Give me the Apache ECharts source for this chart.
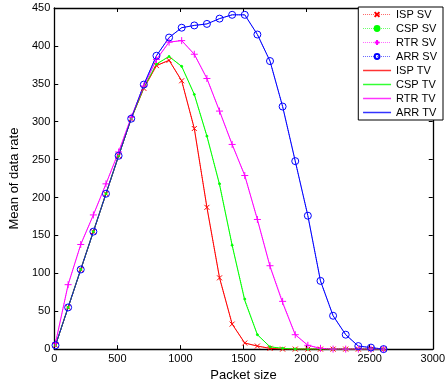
<!DOCTYPE html>
<html><head><meta charset="utf-8">
<script src="https://cdn.jsdelivr.net/npm/echarts@6/dist/echarts.min.js"></script>
<style>html,body{margin:0;padding:0;background:#fff}#c{width:448px;height:387px}</style>
</head><body><div id="c"></div>
<script>
const packetSize = [10,110,210,310,410,510,610,710,810,910,1010,1110,1210,1310,1410,1510,1610,1710,1810,1910,2010,2110,2210,2310,2410,2510,2610];
const ispSV = [5,55,105,155,205,255,304,344,374,381,354,291,187,94,33,8,4,1,0,0,0,0,0,0,0,0,0];
const cspSV = [5,55,105,155,205,255,304,345,376,386,373,336,281,218,137,66,19,3,1,0,0,0,0,0,0,0,0];
const rtrSV = [8,85,138,177,218,260,306,347,382,405,407,389,357,314,270,229,171,110,63,19,5,1,0,0,0,0,0];
const arrSV = [5,55,105,155,205,255,304,349,387,411,424,427,429,436,441,441,415,380,320,248,176,90,44,19,4,2,0];
const ispTV = [5,55,105,155,205,255,304,344,374,381,354,291,187,94,33,8,4,1,0,0,0,0,0,0,0,0,0];
const cspTV = [5,55,105,155,205,255,304,345,376,386,373,336,281,217,137,64,19,3,1,0,0,0,0,0,0,0,0];
const rtrTV = [8,85,138,177,218,260,306,347,382,405,407,389,357,314,270,229,171,109,61,19,5,1,0,0,0,0,0];
const arrTV = [5,55,105,155,205,255,304,349,387,411,424,427,429,436,441,441,415,380,320,248,176,90,44,19,4,2,0];
const xTicks = [0,500,1000,1500,2000,2500,3000];
const yTicks = [0,50,100,150,200,250,300,350,400,450];

const pair = a => packetSize.map((x,i)=>[x,a[i]]);
const FONT = '"Liberation Sans", Arial, sans-serif';
const X_PATH = 'path://M0,0L10,10M10,0L0,10';
const PLUS_PATH = 'path://M5,0L5,10M0,5L10,5';
const O_PATH = 'path://M10,5A5,5,0,1,1,0,5A5,5,0,1,1,10,5Z';

const COLORS = {ISP:'#ff0000', CSP:'#00ff00', RTR:'#ff00ff', ARR:'#0000ff'};

function sv(name, data, color, symbol, size, fill) {
  return {
    name, type:'line', data: pair(data), symbol, symbolSize: size,
    showSymbol: true,
    lineStyle:{color, width:1, type:'dotted', opacity:0.6},
    itemStyle:{color: fill, borderColor:color, borderWidth:1},
    animation:false, z:3
  };
}
function tv(name, data, color) {
  return {
    name, type:'line', data: pair(data), symbol:'none', showSymbol:false,
    lineStyle:{color, width:1},
    itemStyle:{color},
    animation:false, z:2
  };
}

const chart = echarts.init(document.getElementById('c'), null, {renderer:'canvas'});
const axisCommon = {
  axisLine:{show:true, onZero:false, lineStyle:{color:'#000', width:1.3}},
  axisTick:{show:true, inside:true, length:4, lineStyle:{color:'#000'}},
  splitLine:{show:false}
};
const legendNames = ['ISP SV','CSP SV','RTR SV','ARR SV','ISP TV','CSP TV','RTR TV','ARR TV'];
chart.setOption({
  backgroundColor:'#fff',
  textStyle:{fontFamily:FONT},
  grid:{left:51, right:13, top:8, bottom:29, containLabel:false},
  legend:{
    orient:'vertical', right:5, top:7,
    itemWidth:28, itemHeight:6, itemGap:3,
    backgroundColor:'#fff', borderColor:'#000', borderWidth:1,
    padding:[2,6,2,4],
    textStyle:{fontSize:11, color:'#000', fontFamily:FONT},
    data: legendNames.map(n => {
      const c = COLORS[n.slice(0,3)];
      return n.endsWith('TV')
        ? {name:n, itemStyle:{opacity:0}, lineStyle:{color:c, width:1.5, type:'solid', opacity:0.8}}
        : {name:n, lineStyle:{color:c, width:1, type:'dotted', opacity:0.6}};
    })
  },
  xAxis:[
    Object.assign({type:'value', min:0, max:3000, interval:500, position:'bottom',
      name:'Packet size', nameLocation:'middle', nameGap:13,
      nameTextStyle:{fontSize:13, color:'#000', fontFamily:FONT},
      axisLabel:{color:'#000', fontSize:11, margin:4, fontFamily:FONT,
        formatter:v=>xTicks.includes(v)?String(v):''}}, axisCommon),
    Object.assign({type:'value', min:0, max:3000, interval:500, position:'top',
      axisLabel:{show:false}}, axisCommon)
  ],
  yAxis:[
    Object.assign({type:'value', min:0, max:450, interval:50, position:'left',
      name:'Mean of data rate', nameLocation:'middle', nameGap:26,
      nameTextStyle:{fontSize:13, color:'#000', fontFamily:FONT},
      axisLabel:{color:'#000', fontSize:11, margin:4, fontFamily:FONT,
        formatter:v=>yTicks.includes(v)?String(v):''}}, axisCommon),
    Object.assign({type:'value', min:0, max:450, interval:50, position:'right',
      axisLabel:{show:false}}, axisCommon)
  ],
  series:[
    tv('ISP TV', ispTV, COLORS.ISP),
    tv('CSP TV', cspTV, COLORS.CSP),
    tv('RTR TV', rtrTV, COLORS.RTR),
    tv('ARR TV', arrTV, COLORS.ARR),
    sv('ISP SV', ispSV, COLORS.ISP, X_PATH, 5, 'none'),
    sv('CSP SV', cspSV, COLORS.CSP, 'circle', 2, COLORS.CSP),
    sv('RTR SV', rtrSV, COLORS.RTR, PLUS_PATH, 7, 'none'),
    sv('ARR SV', arrSV, COLORS.ARR, O_PATH, 7, 'none')
  ]
});
</script></body></html>
